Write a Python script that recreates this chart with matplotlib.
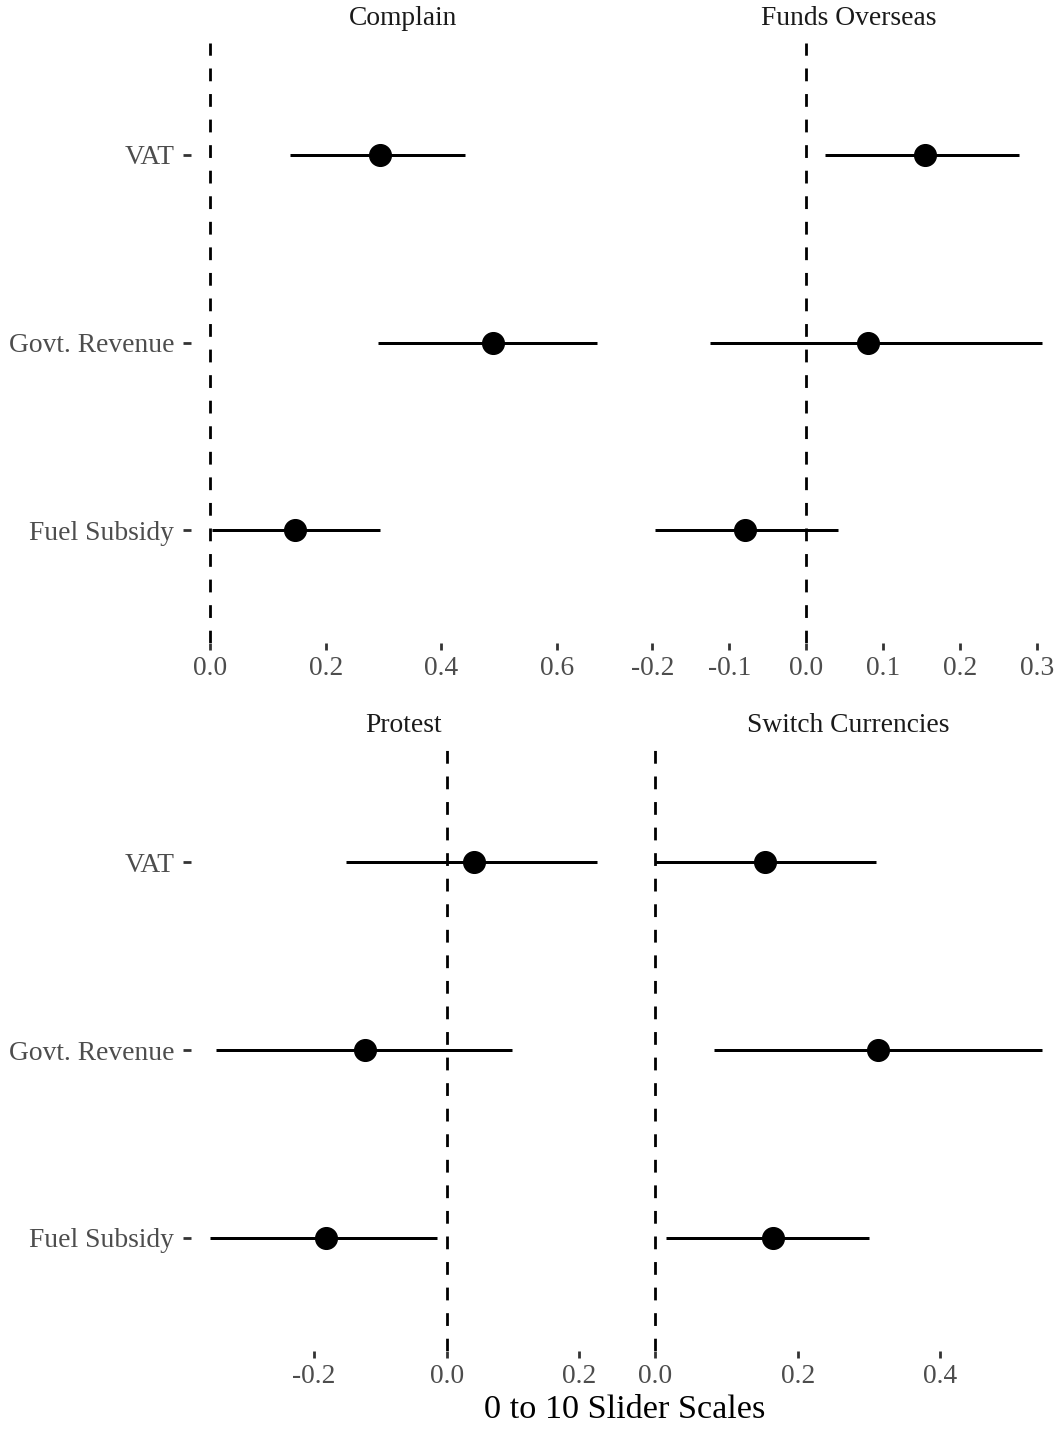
import numpy as np
import matplotlib
matplotlib.use("Agg")
from matplotlib import pyplot as plt

# estimates (rows: Fuel Subsidy, Govt. Revenue, VAT)
outcomes = ["Complain", "Funds Overseas", "Protest", "Switch Currencies"]
treatments = ["Fuel Subsidy", "Govt. Revenue", "VAT"]

est = {
    "Complain":          [0.147, 0.490, 0.293],
    "Funds Overseas":    [-0.079, 0.080, 0.155],
    "Protest":           [-0.182, -0.123, 0.041],
    "Switch Currencies": [0.166, 0.313, 0.154],
}
lower = {
    "Complain":          [0.003, 0.290, 0.138],
    "Funds Overseas":    [-0.196, -0.125, 0.025],
    "Protest":           [-0.356, -0.348, -0.152],
    "Switch Currencies": [0.015, 0.083, 0.000],
}
upper = {
    "Complain":          [0.293, 0.669, 0.441],
    "Funds Overseas":    [0.042, 0.306, 0.277],
    "Protest":           [-0.015, 0.099, 0.226],
    "Switch Currencies": [0.300, 0.543, 0.310],
}
xticks = {
    "Complain":          [0.0, 0.2, 0.4, 0.6],
    "Funds Overseas":    [-0.2, -0.1, 0.0, 0.1, 0.2, 0.3],
    "Protest":           [-0.2, 0.0, 0.2],
    "Switch Currencies": [0.0, 0.2, 0.4],
}

plt.rcParams['font.family'] = ['Liberation Serif', 'DejaVu Serif']

W, H = 1060, 1429
fig = plt.figure(figsize=(W / 100, H / 100), dpi=100)

# panel boxes in pixels
cols = [(191, 616), (636, 1061)]
rows = [(42.5, 642.5), (749.5, 1350.5)]

tick_col = '#4D4D4D'
fs = 19.8

for i, name in enumerate(outcomes):
    r, c = divmod(i, 2)
    x0, x1 = cols[c]
    y0, y1 = rows[r]
    ax = fig.add_axes([x0 / W, 1 - y1 / H, (x1 - x0) / W, (y1 - y0) / H])

    y = np.arange(1, len(treatments) + 1)
    lo = np.array(lower[name])
    hi = np.array(upper[name])
    m = np.array(est[name])

    ax.axvline(0, color='black', lw=2.0, linestyle=(0, (4.6, 4.6)), zorder=1)
    ax.hlines(y, lo, hi, color='black', lw=2.16, zorder=2)
    ax.plot(m, y, 'o', color='black', ms=15.6, zorder=3)

    dmin = min(lo.min(), 0)
    dmax = max(hi.max(), 0)
    pad = 0.05 * (dmax - dmin)
    ax.set_xlim(dmin - pad, dmax + pad)
    ax.set_ylim(0.4, len(treatments) + 0.6)

    for s in ax.spines.values():
        s.set_visible(False)

    ax.set_xticks(xticks[name])
    ax.set_xticklabels([f"{v:.1f}" for v in xticks[name]])
    ax.tick_params(axis='x', direction='out', length=5, width=2, color='#333333',
                   labelsize=fs, labelcolor=tick_col, pad=5)
    if c == 0:
        ax.set_yticks(y)
        ax.set_yticklabels(treatments)
        ax.tick_params(axis='y', direction='out', length=6, width=2, color='#333333',
                       labelsize=fs, labelcolor=tick_col, pad=6)
    else:
        ax.set_yticks([])

    ax.text(0.5, 1 + 24 / (y1 - y0), name, transform=ax.transAxes,
            ha='center', va='center', fontsize=fs, color='#1A1A1A')

fig.text(625 / W, 1 - 1410 / H, "0 to 10 Slider Scales", ha='center', va='center',
         fontsize=24.7, color='black')

fig.savefig("out.png", dpi=100, facecolor='white')
